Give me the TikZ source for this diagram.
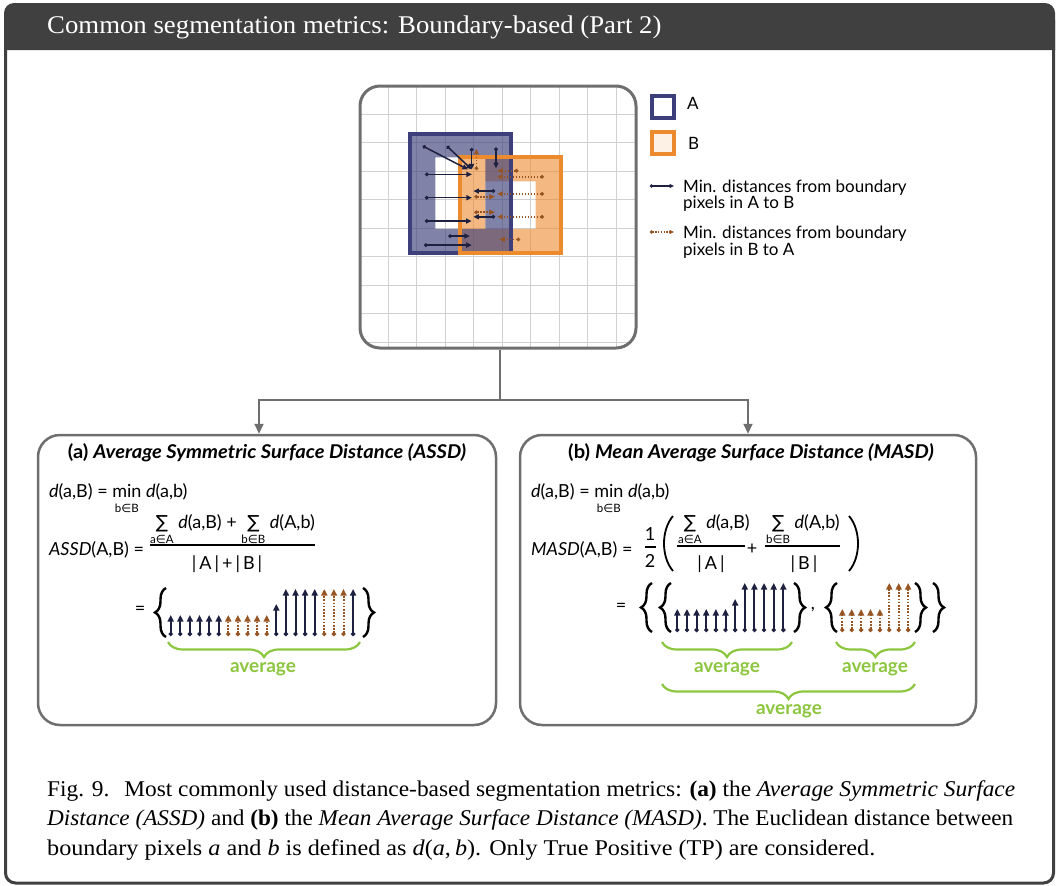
\documentclass[tikz,border=0pt]{standalone}
\usepackage{fontspec}
\setmainfont{Liberation Serif}
\setsansfont{Lato}
\newfontfamily\symfont{DejaVu Sans}
\usetikzlibrary{arrows.meta,decorations.pathreplacing,calc}

\definecolor{hdr}{RGB}{64,64,64}
\definecolor{boxline}{RGB}{110,110,110}
\definecolor{gridline}{RGB}{208,208,208}
\definecolor{navy}{RGB}{30,32,64}
\definecolor{setA}{RGB}{60,63,122}
\definecolor{setB}{RGB}{236,138,46}
\definecolor{brownarr}{RGB}{150,85,35}
\definecolor{avggreen}{RGB}{140,198,63}

% symbols taken from DejaVu Sans
\newcommand\elem{{\symfont ∈}}
\newcommand\sumsym{{\symfont ∑}}
% operator with a small limit set underneath
\newcommand\stk[2]{\begin{tabular}[t]{@{}c@{}}#1\\[-6pt]{\fontsize{11.5}{12}\selectfont #2}\end{tabular}}
% slightly widened serif line
\newcommand\wide[1]{\scalebox{1.075}[1]{#1}}
% serif line set to an exact width
\newcommand\fitline[2]{\resizebox{#1}{\height}{#2}}

\tikzset{
  fsans/.style={font=\sffamily\fontsize{18}{21}\selectfont, inner sep=0pt},
  ftitle/.style={font=\sffamily\bfseries\fontsize{19}{22}\selectfont, inner sep=0pt},
  favg/.style={font=\sffamily\bfseries\fontsize{19}{22}\selectfont, text=avggreen, inner sep=0pt},
  flegend/.style={font=\sffamily\fontsize{17}{19}\selectfont, inner sep=0pt, anchor=base west},
  fcap/.style={font=\fontsize{22.5}{26}\selectfont, inner sep=0pt, anchor=base west},
  panel/.style={draw=boxline, line width=2.5pt, rounded corners=22pt},
  conn/.style={draw=boxline, line width=2pt},
  gridarrA/.style={navy, line width=1.5pt, {Circle[length=3.6pt]}-{Triangle[length=5.5pt,width=5pt]}},
  gridarrB/.style={brownarr, line width=1.5pt, dash pattern=on 1.5pt off 1.5pt, {Circle[length=3.6pt]}-{Triangle[length=5.5pt,width=5pt]}},
  distA/.style={navy, line width=2pt, {Circle[length=4pt]}-{Triangle[length=6.5pt,width=6pt]}},
  distB/.style={brownarr, line width=2pt, dash pattern=on 1.6pt off 1.6pt, {Circle[length=4pt]}-{Triangle[length=6.5pt,width=6pt]}},
  setbrace/.style={decorate, decoration={brace, amplitude=11pt}, line width=2.4pt, black},
  avgbrace/.style={decorate, decoration={brace, amplitude=15pt}, line width=2.2pt, avggreen},
  fracbar/.style={line width=1.4pt, black},
  paren/.style={line width=1.8pt, black},
}

\begin{document}
\begin{tikzpicture}[x=1pt, y=-1pt]
\useasboundingbox (0,0) rectangle (1058,886);

% ---------- outer frame and title bar ----------
\draw[hdr, line width=3pt, rounded corners=10pt] (5.5,20) -- (5.5,883) -- (1053.5,883) -- (1053.5,20);
\fill[hdr] (4,50) [rounded corners=10pt] -- (4,3) -- (1055,3) [sharp corners] -- (1055,50) -- cycle;
\node[font=\fontsize{25.5}{28}\selectfont, text=white, anchor=base west, inner sep=0pt] (head) at (47,34)
  {\scalebox{1.05}[1]{Common segmentation metrics: Boundary-based (Part 2)}};

% ---------- pixel grid with the two segmentations ----------
\begin{scope}[shift={(360,86)}, x=25.09pt, y=-23.82pt]
  \begin{scope}
    \clip[rounded corners=20pt] (0,0) rectangle (11,11);
    \draw[gridline, line width=1pt] (0,0) grid (11,11);
  \end{scope}
  % region fills (B below A)
  \fill[setB, opacity=0.6, even odd rule] (4,3) rectangle (8,7) (5,4) rectangle (7,6);
  \fill[setA, opacity=0.65, even odd rule] (2,2) rectangle (6,7) (3,3) rectangle (5,6);
  \draw[setA, line width=4pt] (2,2) rectangle (6,7);
  \draw[setB, line width=4pt] (4,3) rectangle (8,7);
  % minimum distances from A to B
  \draw[gridarrA] (2.5,2.52) -- (4.3,3.5);
  \draw[gridarrA] (3.46,2.52) -- (4.45,3.5);
  \draw[gridarrA] (4.45,2.6) -- (4.45,3.5);
  \draw[gridarrA] (5.42,2.58) -- (5.42,3.45);
  \draw[gridarrA] (2.59,3.71) -- (4.46,3.71);
  \draw[gridarrA] (5.38,4.41) -- (4.52,4.41);
  \draw[gridarrA] (2.59,4.69) -- (4.46,4.69);
  \draw[gridarrA] (2.59,5.67) -- (4.45,5.67);
  \draw[gridarrA] (5.38,5.49) -- (4.52,5.49);
  \draw[gridarrA] (3.52,6.30) -- (4.38,6.30);
  \draw[gridarrA] (2.55,6.68) -- (4.45,6.68);
  % minimum distances from B to A
  \draw[gridarrB] (4.64,3.53) -- (4.64,2.64);
  \draw[gridarrB] (6.31,3.56) -- (5.47,3.56);
  \draw[gridarrB] (7.33,3.81) -- (5.47,3.81);
  \draw[gridarrB] (4.56,4.65) -- (5.38,4.65);
  \draw[gridarrB] (7.33,4.53) -- (5.47,4.53);
  \draw[gridarrB] (4.56,5.30) -- (5.38,5.30);
  \draw[gridarrB] (7.33,5.49) -- (5.47,5.49);
  \draw[gridarrB] (6.38,6.44) -- (5.55,6.44);
\end{scope}
\node[draw=boxline, line width=3pt, rounded corners=20pt, minimum width=276pt, minimum height=262pt, inner sep=0pt] (gridbox) at (498,217) {};

% ---------- legend ----------
\draw[setA, line width=4pt, fill=white] (652,96) rectangle (674,118);
\node[flegend] (legA) at (687,109) {A};
\draw[setB, line width=4pt, fill=setB!12] (652,132) rectangle (674,154);
\node[flegend] (legB) at (688,149) {B};
\draw[navy, line width=1.4pt, {Circle[length=3pt]}-{Triangle[length=4.5pt,width=4pt]}] (650,186) -- (674,186);
\node[flegend] (legAB1) at (683,192) {Min. distances from boundary};
\node[flegend] (legAB2) at (683,208) {pixels in A to B};
\draw[brownarr, line width=1.4pt, dash pattern=on 1.4pt off 1.4pt, {Circle[length=3pt]}-{Triangle[length=4.5pt,width=4pt]}] (650,232) -- (674,232);
\node[flegend] (legBA1) at (683,238) {Min. distances from boundary};
\node[flegend] (legBA2) at (683,255) {pixels in B to A};

% ---------- panels ----------
\node[panel, minimum width=458pt, minimum height=290pt] (panelA) at (267,580) {};
\node[panel, minimum width=456pt, minimum height=290pt] (panelB) at (748,580) {};

\draw[conn] ([xshift=2pt]gridbox.south) -- ++(0,50) coordinate (fork);
\draw[conn, -{Triangle[length=10pt,width=9pt]}] (fork) -| ([xshift=-8pt]panelA.north);
\draw[conn, -{Triangle[length=10pt,width=9pt]}] (fork) -| (panelB.north);

% ---------- panel (a): ASSD ----------
\node[ftitle] (titleA) at (267,453) {\scalebox{1.06}[1]{(a) \textit{Average Symmetric Surface Distance (ASSD)}}};
\node[fsans, anchor=base west] (defA) at (49,497) {\textit{d}(a,B) = \stk{min}{b\elem B} \textit{d}(a,b)};
\node[fsans, anchor=base west] (numA) at (150,528) {\stk{\sumsym}{a\elem A} \textit{d}(a,B) + \stk{\sumsym}{b\elem B} \textit{d}(A,b)};
\node[fsans, anchor=base west] (lhsA) at (49,555) {\textit{ASSD}(A,B) =};
\draw[fracbar] (150,545) -- (315,545);
\node[fsans, anchor=base] (denA) at (227,569) {|\,A\,|\,+\,|\,B\,|};
\node[fsans] (eqA) at (140,610) {=};
\draw[setbrace] (166,637) -- (166,588);
\draw[setbrace] (363,588) -- (363,637);
\foreach \i/\h in {0/615,1/615,2/615,3/615,4/615,5/615,11/604,12/589,13/589,14/589,15/589,19/589}
  \draw[distA] (170.7+9.6*\i,636) -- (170.7+9.6*\i,\h);
\foreach \i/\h in {6/615,7/615,8/615,9/615,10/615,16/589,17/589,18/589}
  \draw[distB] (170.7+9.6*\i,636) -- (170.7+9.6*\i,\h);
\draw[avgbrace] (360,642) -- (168,642);
\node[favg] (avgA) at (263,669) {average};

% ---------- panel (b): MASD ----------
\node[ftitle] (titleB) at (751,453) {\scalebox{1.06}[1]{(b) \textit{Mean Average Surface Distance (MASD)}}};
\node[fsans, anchor=base west] (defB) at (531,497) {\textit{d}(a,B) = \stk{min}{b\elem B} \textit{d}(a,b)};
\node[fsans, anchor=base west] (lhsB) at (531,555) {\textit{MASD}(A,B) =};
\node[fsans] (oneB) at (650,534) {1};
\draw[line width=1.2pt] (645,547) -- (656,547);
\node[fsans] (twoB) at (650,561) {2};
\draw[paren] (673,516) .. controls (661,530) and (661,557) .. (673,571);
\node[fsans, anchor=base west] (num1B) at (678,528) {\stk{\sumsym}{a\elem A} \textit{d}(a,B)};
\draw[fracbar] (677,546) -- (745,546);
\node[fsans, anchor=base] (den1B) at (711,569) {|\,A\,|};
\node[fsans] (plusB) at (752,549) {+};
\node[fsans, anchor=base west] (num2B) at (766,528) {\stk{\sumsym}{b\elem B} \textit{d}(A,b)};
\draw[fracbar] (765,546) -- (840,546);
\node[fsans, anchor=base] (den2B) at (804,569) {|\,B\,|};
\draw[paren] (849,516) .. controls (861,530) and (861,557) .. (849,571);
\node[fsans] (eqB) at (621,607) {=};
\draw[setbrace] (652,632) -- (652,583);
\draw[setbrace] (671,632) -- (671,583);
\draw[setbrace] (794,583) -- (794,632);
\draw[setbrace] (837,632) -- (837,583);
\draw[setbrace] (915,583) -- (915,632);
\draw[setbrace] (933,583) -- (933,632);
\foreach \i/\h in {0/609,1/609,2/609,3/609,4/609,5/609,6/599,7/583,8/583,9/583,10/583,11/583}
  \draw[distA] (677.3+9.64*\i,632) -- (677.3+9.64*\i,\h);
\foreach \i/\h in {0/609,1/609,2/609,3/609,4/609,5/583,6/583,7/583}
  \draw[distB] (842.3+9.4*\i,632) -- (842.3+9.4*\i,\h);
\node[fsans] (commaB) at (813,610) {,};
\draw[avgbrace] (792,642) -- (662,642);
\node[favg] (avg1B) at (727,669) {average};
\draw[avgbrace] (915,642) -- (836,642);
\node[favg] (avg2B) at (875,669) {average};
\draw[avgbrace] (915,684) -- (662,684);
\node[favg] (avg3B) at (789,711) {average};

% ---------- caption ----------
\node[fcap] (cap1) at (47,796) {\fitline{968pt}{Fig. 9.\hspace{0.3em} Most commonly used distance-based segmentation metrics: \textbf{(a)} the \textit{Average Symmetric Surface}}};
\node[fcap] (cap2) at (47,825) {\fitline{966pt}{\textit{Distance (ASSD)} and \textbf{(b)} the \textit{Mean Average Surface Distance (MASD)}. The Euclidean distance between}};
\node[fcap] (cap3) at (47,855) {\wide{boundary pixels \textit{a} and \textit{b} is defined as \textit{d}(\textit{a},\,\textit{b}). Only True Positive (TP) are considered.}};
\end{tikzpicture}
\end{document}
